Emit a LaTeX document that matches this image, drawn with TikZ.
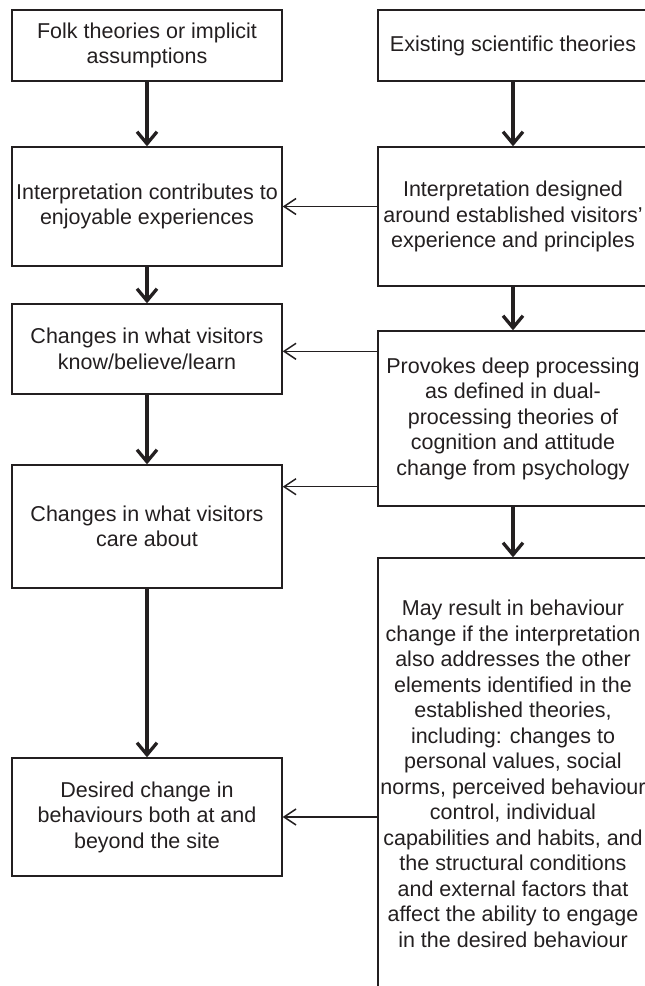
\documentclass[tikz,border=0pt]{standalone}
\usepackage{fontspec}
\setmainfont{Liberation Sans}
\usetikzlibrary{arrows.meta}
\definecolor{ink}{RGB}{35,31,32}
\tikzset{
  box/.style={draw=ink, line width=1.4pt, text=ink, align=center, inner sep=0pt,
    minimum width=270pt, font=\fontsize{21.5}{25.5}\selectfont},
  flow/.style={draw=ink, line width=3.3pt,
    -{Straight Barb[length=12pt,width=20pt,line width=3.3pt]}},
  feed/.style={draw=ink, line width=1.5pt,
    -{Straight Barb[length=12pt,width=16pt,line width=1.5pt]}},
}
\begin{document}
\begin{tikzpicture}[x=1pt,y=-1pt]
\useasboundingbox (0,0) rectangle (645,986);

% left column
\node[box, minimum height=71pt]  (L1) at (147,45.5)  {Folk theories or implicit\\assumptions};
\node[box, minimum height=119pt] (L2) at (147,206.5) {Interpretation contributes to\\enjoyable experiences};
\node[box, minimum height=90pt]  (L3) at (147,349)   {Changes in what visitors\\know/believe/learn};
\node[box, minimum height=123pt] (L4) at (147,526.5) {Changes in what visitors\\care about};
\node[box, minimum height=118pt] (L5) at (147,817)   {Desired change in\\behaviours both at and\\beyond the site};

% right column
\node[box, minimum height=71pt]  (R1) at (513,45.5)  {Existing scientific theories};
\node[box, minimum height=139pt] (R2) at (513,216.5) {Interpretation designed\\around established visitors’\\experience and principles};
\node[box, minimum height=175pt] (R3) at (513,418.5) {Provokes deep processing\\as defined in dual-\\processing theories of\\cognition and attitude\\change from psychology};
\node[box, minimum height=432pt] (R4) at (513,774)   {May result in behaviour\\change if the interpretation\\also addresses the other\\elements identified in the\\established theories,\\including: changes to\\personal values, social\\norms, perceived behaviour\\control, individual\\capabilities and habits, and\\the structural conditions\\and external factors that\\affect the ability to engage\\in the desired behaviour};

% main flow down each column
\draw[flow] (L1) -- (L2);
\draw[flow] (L2) -- (L3);
\draw[flow] (L3) -- (L4);
\draw[flow] (L4) -- (L5);
\draw[flow] (R1) -- (R2);
\draw[flow] (R2) -- (R3);
\draw[flow] (R3) -- (R4);

% links from the right column into the left column
\coordinate (r3a) at ([yshift=-21pt]R3.north west);
\coordinate (r3b) at ([yshift=20pt]R3.south west);
\draw[feed] (R2.west |- L2.east) -- (L2.east);
\draw[feed] (r3a) -- (L3.east |- r3a);
\draw[feed] (r3b) -- (L4.east |- r3b);
\draw[feed] (R4.west |- L5.east) -- (L5.east);
\end{tikzpicture}
\end{document}
